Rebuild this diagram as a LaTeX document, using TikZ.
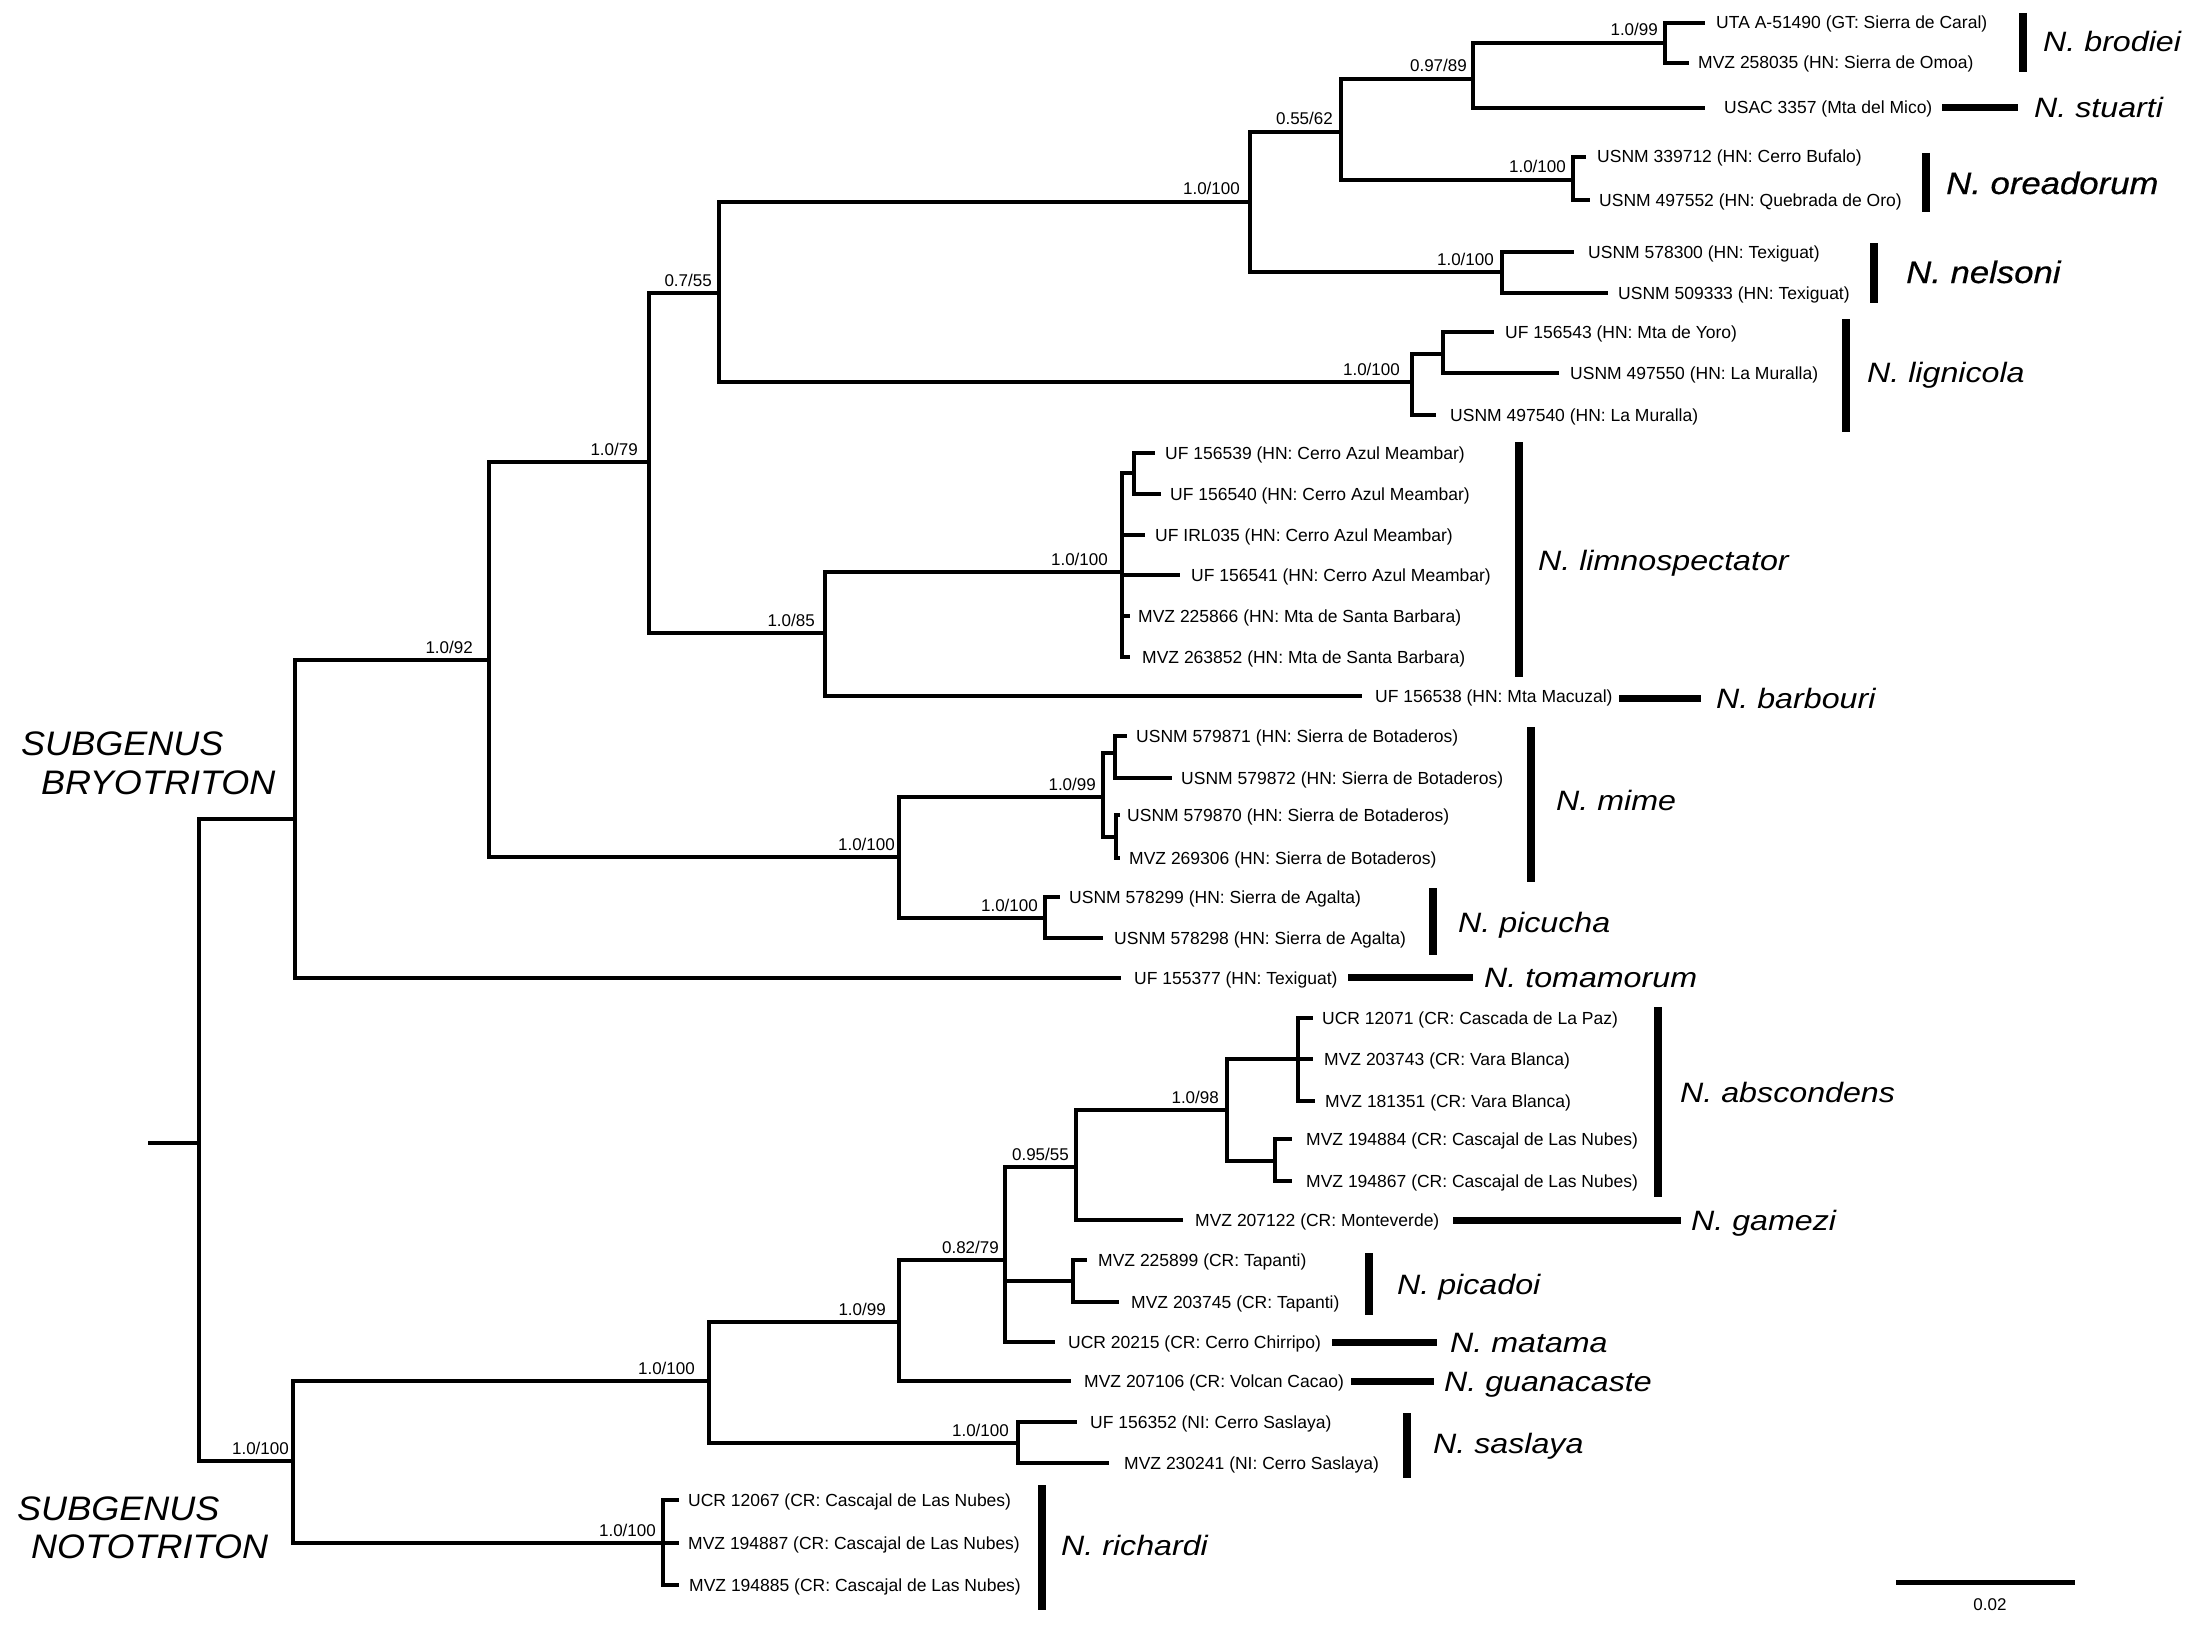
\documentclass[tikz,border=0pt]{standalone}
\usepackage{fontspec}
\setmainfont{Liberation Sans}
\newfontfamily\spfont[FakeStretch=1.15]{Liberation Sans}
\newfontfamily\spbfont[FakeStretch=1.12,FakeBold=0.5]{Liberation Sans}
\newfontfamily\sgfont[FakeStretch=1.06]{Liberation Sans}
\begin{document}
\begin{tikzpicture}[x=1pt,y=-1pt,
  br/.style={line width=3.5pt},
  tiplab/.style={anchor=base west,inner sep=0pt,yshift=-6pt,font=\fontsize{17.5}{19}\selectfont},
  suplab/.style={anchor=base east,inner sep=0pt,yshift=7pt,font=\fontsize{17}{19}\selectfont},
  splab/.style={anchor=base west,inner sep=0pt,yshift=-10pt,font=\spfont\itshape\fontsize{28}{30}\selectfont},
  spblab/.style={anchor=base west,inner sep=0pt,yshift=-11pt,font=\spbfont\itshape\fontsize{31}{33}\selectfont},
  sglab/.style={anchor=base west,inner sep=0pt,font=\sgfont\itshape\fontsize{34}{36}\selectfont},
  vbar/.style={line width=8pt},
  hbar/.style={line width=7pt}]
\useasboundingbox (0,0) rectangle (2207,1632);
% ---------- internal nodes ----------
\coordinate (stub) at (148,1143);
\coordinate (root) at (199,1143);
\coordinate (bryo) at (295,819);
\coordinate (n2) at (489,660);
\coordinate (n3) at (649,462);
\coordinate (n4) at (719,293);
\coordinate (n5) at (1250,202);
\coordinate (n6) at (1341,132);
\coordinate (n7) at (1473,79);
\coordinate (nbro) at (1665,43);
\coordinate (nore) at (1573,180);
\coordinate (nnel) at (1502,272);
\coordinate (nlig) at (1412,382);
\coordinate (nlig2) at (1443,354);
\coordinate (n8) at (825,633);
\coordinate (nlim) at (1122,572);
\coordinate (nlim2) at (1134,473);
\coordinate (n9) at (899,857);
\coordinate (nmime) at (1103,797);
\coordinate (nmime1) at (1115,753);
\coordinate (nmime2) at (1116,837);
\coordinate (npic) at (1045,918);
\coordinate (noto) at (293,1461);
\coordinate (n11) at (709,1381);
\coordinate (n12) at (899,1322);
\coordinate (n13) at (1005,1260);
\coordinate (n14) at (1076,1167);
\coordinate (n15) at (1227,1110);
\coordinate (n16) at (1298,1059);
\coordinate (n17) at (1275,1161);
\coordinate (npcd) at (1073,1281);
\coordinate (nsas) at (1018,1443);
\coordinate (nric) at (663,1543);
% ---------- tips ----------
\coordinate (t1) at (1705,23);
\coordinate (t2) at (1689,63);
\coordinate (t3) at (1705,108);
\coordinate (t4) at (1586,157);
\coordinate (t5) at (1590,200);
\coordinate (t6) at (1574,252);
\coordinate (t7) at (1608,293);
\coordinate (t8) at (1494,332);
\coordinate (t9) at (1559,373);
\coordinate (t10) at (1436,415);
\coordinate (t11) at (1155,453);
\coordinate (t12) at (1161,494);
\coordinate (t13) at (1145,535);
\coordinate (t14) at (1180,575);
\coordinate (t15) at (1130,616);
\coordinate (t16) at (1130,657);
\coordinate (t17) at (1362,696);
\coordinate (t18) at (1127,736);
\coordinate (t19) at (1172,778);
\coordinate (t20) at (1120,815);
\coordinate (t21) at (1120,858);
\coordinate (t22) at (1060,897);
\coordinate (t23) at (1103,938);
\coordinate (t24) at (1121,978);
\coordinate (t25) at (1313,1018);
\coordinate (t26) at (1313,1059);
\coordinate (t27) at (1315,1101);
\coordinate (t28) at (1292,1139);
\coordinate (t29) at (1292,1181);
\coordinate (t30) at (1183,1220);
\coordinate (t31) at (1087,1260);
\coordinate (t32) at (1119,1302);
\coordinate (t33) at (1055,1342);
\coordinate (t34) at (1071,1381);
\coordinate (t35) at (1077,1422);
\coordinate (t36) at (1109,1463);
\coordinate (t37) at (679,1500);
\coordinate (t38) at (679,1543);
\coordinate (t39) at (679,1585);
% ---------- branches ----------
\draw[br] (stub) -- (root);
\draw[br] (root) |- (bryo);  \draw[br] (root) |- (noto);
\draw[br] (bryo) |- (n2);    \draw[br] (bryo) |- (t24);
\draw[br] (n2) |- (n3);      \draw[br] (n2) |- (n9);
\draw[br] (n3) |- (n4);      \draw[br] (n3) |- (n8);
\draw[br] (n4) |- (n5);      \draw[br] (n4) |- (nlig);
\draw[br] (n5) |- (n6);      \draw[br] (n5) |- (nnel);
\draw[br] (n6) |- (n7);      \draw[br] (n6) |- (nore);
\draw[br] (n7) |- (nbro);    \draw[br] (n7) |- (t3);
\draw[br] (nbro) |- (t1);    \draw[br] (nbro) |- (t2);
\draw[br] (nore) |- (t4);    \draw[br] (nore) |- (t5);
\draw[br] (nnel) |- (t6);    \draw[br] (nnel) |- (t7);
\draw[br] (nlig) |- (nlig2); \draw[br] (nlig) |- (t10);
\draw[br] (nlig2) |- (t8);   \draw[br] (nlig2) |- (t9);
\draw[br] (n8) |- (nlim);    \draw[br] (n8) |- (t17);
\draw[br] (nlim) |- (nlim2); \draw[br] (nlim) |- (t13);
\draw[br] (nlim) |- (t14);   \draw[br] (nlim) |- (t15);
\draw[br] (nlim) |- (t16);
\draw[br] (nlim2) |- (t11);  \draw[br] (nlim2) |- (t12);
\draw[br] (n9) |- (nmime);   \draw[br] (n9) |- (npic);
\draw[br] (nmime) |- (nmime1); \draw[br] (nmime) |- (nmime2);
\draw[br] (nmime1) |- (t18); \draw[br] (nmime1) |- (t19);
\draw[br] (nmime2) |- (t20); \draw[br] (nmime2) |- (t21);
\draw[br] (npic) |- (t22);   \draw[br] (npic) |- (t23);
\draw[br] (noto) |- (n11);   \draw[br] (noto) |- (nric);
\draw[br] (n11) |- (n12);    \draw[br] (n11) |- (nsas);
\draw[br] (n12) |- (n13);    \draw[br] (n12) |- (t34);
\draw[br] (n13) |- (n14);    \draw[br] (n13) |- (npcd);
\draw[br] (n13) |- (t33);
\draw[br] (n14) |- (n15);    \draw[br] (n14) |- (t30);
\draw[br] (n15) |- (n16);    \draw[br] (n15) |- (n17);
\draw[br] (n16) |- (t25);    \draw[br] (n16) |- (t26);
\draw[br] (n16) |- (t27);
\draw[br] (n17) |- (t28);    \draw[br] (n17) |- (t29);
\draw[br] (npcd) |- (t31);   \draw[br] (npcd) |- (t32);
\draw[br] (nsas) |- (t35);   \draw[br] (nsas) |- (t36);
\draw[br] (nric) |- (t37);   \draw[br] (nric) |- (t38);
\draw[br] (nric) |- (t39);
% ---------- support values ----------
\node[suplab] (s2) at (473,660) {1.0/92};
\node[suplab] (s3) at (638,462) {1.0/79};
\node[suplab] (s4) at (712,293) {0.7/55};
\node[suplab] (s5) at (1240,202) {1.0/100};
\node[suplab] (s6) at (1333,132) {0.55/62};
\node[suplab] (s7) at (1467,79) {0.97/89};
\node[suplab] (sbro) at (1658,43) {1.0/99};
\node[suplab] (sore) at (1566,180) {1.0/100};
\node[suplab] (snel) at (1494,272) {1.0/100};
\node[suplab] (slig) at (1400,382) {1.0/100};
\node[suplab] (s8) at (815,633) {1.0/85};
\node[suplab] (slim) at (1108,572) {1.0/100};
\node[suplab] (s9) at (895,857) {1.0/100};
\node[suplab] (smime) at (1096,797) {1.0/99};
\node[suplab] (spic) at (1038,918) {1.0/100};
\node[suplab] (snoto) at (289,1461) {1.0/100};
\node[suplab] (s11) at (695,1381) {1.0/100};
\node[suplab] (s12) at (886,1322) {1.0/99};
\node[suplab] (s13) at (999,1260) {0.82/79};
\node[suplab] (s14) at (1069,1167) {0.95/55};
\node[suplab] (s15) at (1219,1110) {1.0/98};
\node[suplab] (ssas) at (1009,1443) {1.0/100};
\node[suplab] (sric) at (656,1543) {1.0/100};
% ---------- tip labels ----------
\node[tiplab] (l1) at (1716,23) {UTA A-51490 (GT: Sierra de Caral)};
\node[tiplab] (l2) at (1698,63) {MVZ 258035 (HN: Sierra de Omoa)};
\node[tiplab] (l3) at (1724,108) {USAC 3357 (Mta del Mico)};
\node[tiplab] (l4) at (1597,157) {USNM 339712 (HN: Cerro Bufalo)};
\node[tiplab] (l5) at (1599,200) {USNM 497552 (HN: Quebrada de Oro)};
\node[tiplab] (l6) at (1588,252) {USNM 578300 (HN: Texiguat)};
\node[tiplab] (l7) at (1618,293) {USNM 509333 (HN: Texiguat)};
\node[tiplab] (l8) at (1505,332) {UF 156543 (HN: Mta de Yoro)};
\node[tiplab] (l9) at (1570,373) {USNM 497550 (HN: La Muralla)};
\node[tiplab] (l10) at (1450,415) {USNM 497540 (HN: La Muralla)};
\node[tiplab] (l11) at (1165,453) {UF 156539 (HN: Cerro Azul Meambar)};
\node[tiplab] (l12) at (1170,494) {UF 156540 (HN: Cerro Azul Meambar)};
\node[tiplab] (l13) at (1155,535) {UF IRL035 (HN: Cerro Azul Meambar)};
\node[tiplab] (l14) at (1191,575) {UF 156541 (HN: Cerro Azul Meambar)};
\node[tiplab] (l15) at (1138,616) {MVZ 225866 (HN: Mta de Santa Barbara)};
\node[tiplab] (l16) at (1142,657) {MVZ 263852 (HN: Mta de Santa Barbara)};
\node[tiplab] (l17) at (1375,696) {UF 156538 (HN: Mta Macuzal)};
\node[tiplab] (l18) at (1136,736) {USNM 579871 (HN: Sierra de Botaderos)};
\node[tiplab] (l19) at (1181,778) {USNM 579872 (HN: Sierra de Botaderos)};
\node[tiplab] (l20) at (1127,815) {USNM 579870 (HN: Sierra de Botaderos)};
\node[tiplab] (l21) at (1129,858) {MVZ 269306 (HN: Sierra de Botaderos)};
\node[tiplab] (l22) at (1069,897) {USNM 578299 (HN: Sierra de Agalta)};
\node[tiplab] (l23) at (1114,938) {USNM 578298 (HN: Sierra de Agalta)};
\node[tiplab] (l24) at (1134,978) {UF 155377 (HN: Texiguat)};
\node[tiplab] (l25) at (1322,1018) {UCR 12071 (CR: Cascada de La Paz)};
\node[tiplab] (l26) at (1324,1059) {MVZ 203743 (CR: Vara Blanca)};
\node[tiplab] (l27) at (1325,1101) {MVZ 181351 (CR: Vara Blanca)};
\node[tiplab] (l28) at (1306,1139) {MVZ 194884 (CR: Cascajal de Las Nubes)};
\node[tiplab] (l29) at (1306,1181) {MVZ 194867 (CR: Cascajal de Las Nubes)};
\node[tiplab] (l30) at (1195,1220) {MVZ 207122 (CR: Monteverde)};
\node[tiplab] (l31) at (1098,1260) {MVZ 225899 (CR: Tapanti)};
\node[tiplab] (l32) at (1131,1302) {MVZ 203745 (CR: Tapanti)};
\node[tiplab] (l33) at (1068,1342) {UCR 20215 (CR: Cerro Chirripo)};
\node[tiplab] (l34) at (1084,1381) {MVZ 207106 (CR: Volcan Cacao)};
\node[tiplab] (l35) at (1090,1422) {UF 156352 (NI: Cerro Saslaya)};
\node[tiplab] (l36) at (1124,1463) {MVZ 230241 (NI: Cerro Saslaya)};
\node[tiplab] (l37) at (688,1500) {UCR 12067 (CR: Cascajal de Las Nubes)};
\node[tiplab] (l38) at (688,1543) {MVZ 194887 (CR: Cascajal de Las Nubes)};
\node[tiplab] (l39) at (689,1585) {MVZ 194885 (CR: Cascajal de Las Nubes)};
% ---------- species bars ----------
\coordinate (b1a) at (2023,13);  \coordinate (b1b) at (2023,72);
\coordinate (b2a) at (1942,108); \coordinate (b2b) at (2018,108);
\coordinate (b3a) at (1926,153); \coordinate (b3b) at (1926,212);
\coordinate (b4a) at (1874,243); \coordinate (b4b) at (1874,303);
\coordinate (b5a) at (1846,319); \coordinate (b5b) at (1846,432);
\coordinate (b6a) at (1519,442); \coordinate (b6b) at (1519,677);
\coordinate (b7a) at (1619,698); \coordinate (b7b) at (1701,698);
\coordinate (b8a) at (1531,727); \coordinate (b8b) at (1531,882);
\coordinate (b9a) at (1433,888); \coordinate (b9b) at (1433,955);
\coordinate (b10a) at (1348,977); \coordinate (b10b) at (1473,977);
\coordinate (b11a) at (1658,1007); \coordinate (b11b) at (1658,1197);
\coordinate (b12a) at (1453,1220); \coordinate (b12b) at (1681,1220);
\coordinate (b13a) at (1369,1253); \coordinate (b13b) at (1369,1315);
\coordinate (b14a) at (1332,1342); \coordinate (b14b) at (1437,1342);
\coordinate (b15a) at (1351,1381); \coordinate (b15b) at (1434,1381);
\coordinate (b16a) at (1407,1413); \coordinate (b16b) at (1407,1478);
\coordinate (b17a) at (1042,1485); \coordinate (b17b) at (1042,1610);
\draw[vbar] (b1a) -- (b1b);
\draw[hbar] (b2a) -- (b2b);
\draw[vbar] (b3a) -- (b3b);
\draw[vbar] (b4a) -- (b4b);
\draw[vbar] (b5a) -- (b5b);
\draw[vbar] (b6a) -- (b6b);
\draw[hbar] (b7a) -- (b7b);
\draw[vbar] (b8a) -- (b8b);
\draw[vbar] (b9a) -- (b9b);
\draw[hbar] (b10a) -- (b10b);
\draw[vbar] (b11a) -- (b11b);
\draw[hbar] (b12a) -- (b12b);
\draw[vbar] (b13a) -- (b13b);
\draw[hbar] (b14a) -- (b14b);
\draw[hbar] (b15a) -- (b15b);
\draw[vbar] (b16a) -- (b16b);
\draw[vbar] (b17a) -- (b17b);
% ---------- species names ----------
\node[splab] (sp1) at (2043,42) {N. brodiei};
\node[splab] (sp2) at (2034,108) {N. stuarti};
\node[spblab] (sp3) at (1946,183) {N. oreadorum};
\node[spblab] (sp4) at (1906,272) {N. nelsoni};
\node[splab] (sp5) at (1867,372) {N. lignicola};
\node[splab] (sp6) at (1538,560) {N. limnospectator};
\node[splab] (sp7) at (1716,698) {N. barbouri};
\node[splab] (sp8) at (1556,800) {N. mime};
\node[splab] (sp9) at (1458,922) {N. picucha};
\node[splab] (sp10) at (1484,977) {N. tomamorum};
\node[splab] (sp11) at (1680,1092) {N. abscondens};
\node[splab] (sp12) at (1691,1220) {N. gamezi};
\node[splab] (sp13) at (1397,1284) {N. picadoi};
\node[splab] (sp14) at (1450,1342) {N. matama};
\node[splab] (sp15) at (1444,1381) {N. guanacaste};
\node[splab] (sp16) at (1433,1443) {N. saslaya};
\node[splab] (sp17) at (1061,1545) {N. richardi};
% ---------- subgenus labels ----------
\node[sglab] (sg1) at (21,755) {SUBGENUS};
\node[sglab] (sg2) at (41,794) {BRYOTRITON};
\node[sglab] (sg3) at (17,1520) {SUBGENUS};
\node[sglab] (sg4) at (31,1558) {NOTOTRITON};
% ---------- scale bar ----------
\coordinate (sca) at (1896,1582);
\coordinate (scb) at (2075,1582);
\draw[line width=5pt] (sca) -- (scb);
\node[anchor=center,inner sep=0pt,font=\fontsize{17}{19}\selectfont] (sclab) at (1990,1605) {0.02};
\end{tikzpicture}
\end{document}
